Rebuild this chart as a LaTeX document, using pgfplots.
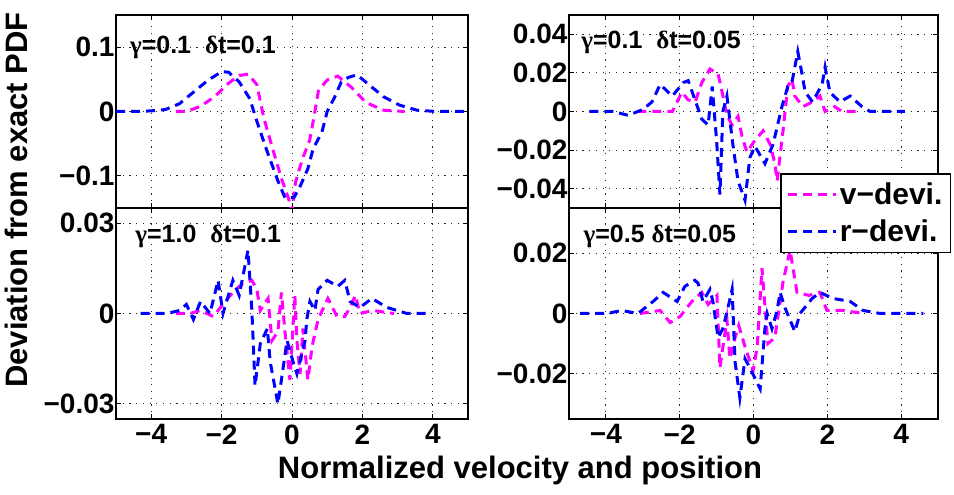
\documentclass[border=0pt]{standalone}
\usepackage{fontspec}
\setmainfont{Liberation Sans}
\newfontfamily\greek{Liberation Serif}
\usepackage{pgfplots}
\pgfplotsset{compat=1.18}
\newcommand\tickfont{\fontsize{28}{28}\selectfont\bfseries}
\newcommand\ttlfont{\fontsize{25}{25}\selectfont\bfseries}
\pgfplotsset{
  panel/.style={scale only axis, anchor=north west,
    xmin=-5, xmax=5, xtick={-4,-2,0,2,4},
    grid=major, major grid style={black!85, line width=1pt, dash pattern=on 1.2pt off 5.5pt},
    axis line style={line width=1.8pt},
    tick align=inside, major tick length=5pt,
    every tick/.style={black, line width=1pt},
    scaled y ticks=false,
    tick label style={font=\tickfont},
    yticklabel style={xshift=2pt},
    xticklabel style={yshift=-2pt},
    clip=true},
  mag/.style={color={rgb,1:red,1;green,0;blue,1}, line width=3pt, dash pattern=on 9pt off 6pt},
  blu/.style={color={rgb,1:red,0;green,0;blue,1}, line width=3pt, dash pattern=on 9pt off 6pt},
}
\begin{document}
\begin{tikzpicture}
\path[use as bounding box] (0,0) rectangle (954pt,-495pt);
% bottom-left
\begin{axis}[panel, at={(116pt,-208pt)}, width=352pt, height=211pt,
  ymin=-0.035, ymax=0.035, ytick={-0.03,0,0.03}, yticklabels={−0.03,0,0.03},
  xticklabels={−4,−2,0,2,4}]
\addplot[mag] coordinates {(-3.3,0)(-2.9,0)(-2.6,0.001)(-2.24,-0.001)(-1.96,0.003)(-1.68,0.007)(-1.4,0.010)(-1.14,0.011)(-1.0,0.008)(-0.9,0.001)(-0.68,0.005)(-0.57,-0.009)(-0.4,-0.006)(-0.3,0.007)(-0.2,-0.006)(-0.06,-0.022)(0.08,0.006)(0.14,-0.009)(0.23,-0.020)(0.31,-0.005)(0.45,-0.022)(0.57,-0.011)(0.74,-0.002)(1.02,0.005)(1.28,-0.001)(1.5,-0.001)(1.65,0.002)(1.8,0.006)(1.93,0)(2.3,0.001)(2.9,0)};
\addplot[blu] coordinates {(-4.3,0)(-3.55,0)(-3.2,0.001)(-3.0,0.003)(-2.8,-0.002)(-2.6,0.004)(-2.33,0)(-2.1,0.011)(-1.96,0)(-1.68,0.011)(-1.5,0.006)(-1.25,0.021)(-1.14,0.001)(-1.05,-0.024)(-0.9,-0.010)(-0.7,-0.005)(-0.62,-0.016)(-0.4,-0.030)(-0.14,-0.009)(0.03,-0.016)(0.14,-0.020)(0.37,-0.009)(0.42,-0.002)(0.51,0.004)(0.65,0.001)(0.74,0.008)(1.0,0.011)(1.3,0.009)(1.5,0.011)(1.65,0.004)(1.93,0.002)(2.27,0.005)(2.7,0.002)(3.27,0)(3.9,0)};
\node[anchor=west, font=\ttlfont] at (rel axis cs:0.045,0.863) {{\greek γ}=1.0\ \ {\greek δ}t=0.1};
\end{axis}
% top-left
\begin{axis}[panel, at={(116pt,-15pt)}, width=352pt, height=193pt,
  ymin=-0.15, ymax=0.15, ytick={-0.1,0,0.1}, yticklabels={−0.1,0,0.1},
  xticklabels={}]
\addplot[mag] coordinates {(-3.3,0)(-3.0,0)(-2.6,0.008)(-2.2,0.023)(-1.8,0.044)(-1.5,0.056)(-1.25,0.058)(-1.0,0.042)(-0.8,-0.010)(-0.55,-0.058)(-0.3,-0.104)(-0.1,-0.135)(0.0,-0.155)(0.1,-0.110)(0.3,-0.073)(0.5,-0.045)(0.62,-0.010)(0.75,0.032)(1.0,0.049)(1.3,0.055)(1.7,0.037)(2.1,0.014)(2.6,0.002)(3.2,0)};
\addplot[blu] coordinates {(-5,0)(-4.4,0)(-4,0.001)(-3.6,0.003)(-3.2,0.012)(-2.8,0.030)(-2.4,0.048)(-2.0,0.062)(-1.8,0.061)(-1.5,0.046)(-1.2,0.020)(-1.0,-0.015)(-0.7,-0.063)(-0.4,-0.108)(-0.2,-0.134)(0.05,-0.134)(0.2,-0.120)(0.45,-0.089)(0.6,-0.058)(0.85,-0.032)(1.0,0)(1.2,0.021)(1.4,0.046)(1.6,0.053)(1.85,0.057)(2.2,0.041)(2.6,0.023)(3.05,0.010)(3.55,0.002)(4.1,0)(5,0)};
\node[anchor=west, font=\ttlfont] at (rel axis cs:0.03,0.834) {{\greek γ}=0.1\ \ {\greek δ}t=0.1};
\end{axis}
% bottom-right
\begin{axis}[panel, at={(569pt,-208pt)}, width=369pt, height=211pt,
  ymin=-0.035, ymax=0.035, ytick={-0.02,0,0.02}, yticklabels={−0.02,0,0.02},
  xticklabels={−4,−2,0,2,4}]
\addplot[mag] coordinates {(-3.08,0)(-2.53,0.001)(-2.26,-0.003)(-1.99,-0.001)(-1.67,0.004)(-1.4,0.007)(-1.23,0.003)(-0.99,0.006)(-0.91,-0.018)(-0.72,-0.002)(-0.64,-0.015)(-0.5,-0.008)(-0.4,-0.004)(-0.23,-0.011)(-0.01,-0.019)(0.1,-0.011)(0.23,0.015)(0.39,-0.010)(0.58,-0.008)(0.8,0.0105)(0.99,0.021)(1.18,0.007)(1.5,0.006)(1.8,0.007)(1.99,0.001)(2.42,0.001)(3.0,0)};
\addplot[blu] coordinates {(-4.7,0)(-3.97,0)(-3.57,0.001)(-3.13,0)(-2.72,0.004)(-2.45,0.007)(-2.07,0.004)(-1.86,0.009)(-1.59,0.011)(-1.5,0.010)(-1.37,0.004)(-1.18,0.008)(-1.1,0.004)(-0.96,-0.008)(-0.83,-0.005)(-0.69,0.002)(-0.58,0.008)(-0.5,-0.016)(-0.37,-0.028)(-0.23,-0.015)(-0.1,-0.018)(0.18,-0.025)(0.31,-0.005)(0.37,0)(0.5,-0.005)(0.64,0.001)(0.72,0.007)(0.85,0.002)(1.12,-0.006)(1.26,0)(1.59,0.005)(1.8,0.007)(2.15,0.005)(2.62,0.004)(2.97,0.001)(3.43,0)(4.6,0)};
\node[anchor=west, font=\ttlfont] at (rel axis cs:0.03,0.863) {{\greek γ}=0.5 {\greek δ}t=0.05};
\end{axis}
% top-right
\begin{axis}[panel, at={(569pt,-15pt)}, width=369pt, height=193pt,
  ymin=-0.05, ymax=0.05, ytick={-0.04,-0.02,0,0.02,0.04}, yticklabels={−0.04,−0.02,0,0.02,0.04},
  xticklabels={},
  legend style={at={(0.572,0.181)}, anchor=north west, draw=black, line width=1.5pt, fill=white,
    font=\fontsize{30}{30}\selectfont\bfseries, row sep=10pt, inner xsep=6pt, inner ysep=7pt,
    cells={anchor=west}},
  legend image code/.code={\draw[#1] (0pt,0pt) -- (48pt,0pt);}]
\addplot[mag] coordinates {(-3.15,0)(-2.2,0)(-1.94,0.010)(-1.77,0.006)(-1.58,0.005)(-1.4,0.015)(-1.18,0.022)(-0.96,0.0195)(-0.85,0.010)(-0.72,-0.002)(-0.58,-0.007)(-0.42,-0.0025)(-0.31,-0.013)(-0.18,-0.021)(0.04,-0.015)(0.26,-0.010)(0.45,-0.017)(0.58,-0.027)(0.64,-0.036)(0.8,-0.010)(0.93,0.013)(1.04,0.017)(1.12,0.008)(1.34,0.0025)(1.6,0.005)(1.8,0.008)(1.94,0)(2.2,0.0025)(2.4,0)(2.9,0)};
\addlegendentry{v−devi.}
\addplot[blu] coordinates {(-4.45,0)(-3.8,0)(-3.4,-0.002)(-3.0,0.001)(-2.75,0.005)(-2.53,0.014)(-2.2,0.008)(-1.9,0.015)(-1.77,0.016)(-1.4,-0.004)(-1.23,-0.007)(-1.12,0.013)(-1.0,-0.015)(-0.91,-0.043)(-0.83,0)(-0.72,0.008)(-0.56,-0.017)(-0.42,-0.036)(-0.23,-0.046)(-0.1,-0.024)(0.04,-0.018)(0.31,-0.027)(0.53,-0.017)(0.77,0.0025)(0.93,0.013)(1.04,0.015)(1.2,0.031)(1.31,0.020)(1.4,0.010)(1.6,0.005)(1.86,0.014)(1.94,0.023)(2.07,0.010)(2.34,0.005)(2.62,0.008)(2.94,0.0025)(3.16,0)(4.1,0)};
\addlegendentry{r−devi.}
\node[anchor=west, font=\ttlfont] at (rel axis cs:0.024,0.86) {{\greek γ}=0.1\ \ {\greek δ}t=0.05};
\end{axis}
\node[rotate=90, font=\fontsize{31}{31}\selectfont\bfseries] at (16pt,-200pt) {Deviation from exact PDF};
\node[font=\fontsize{31}{31}\selectfont\bfseries] at (520pt,-470pt) {Normalized velocity and position};
\end{tikzpicture}
\end{document}
